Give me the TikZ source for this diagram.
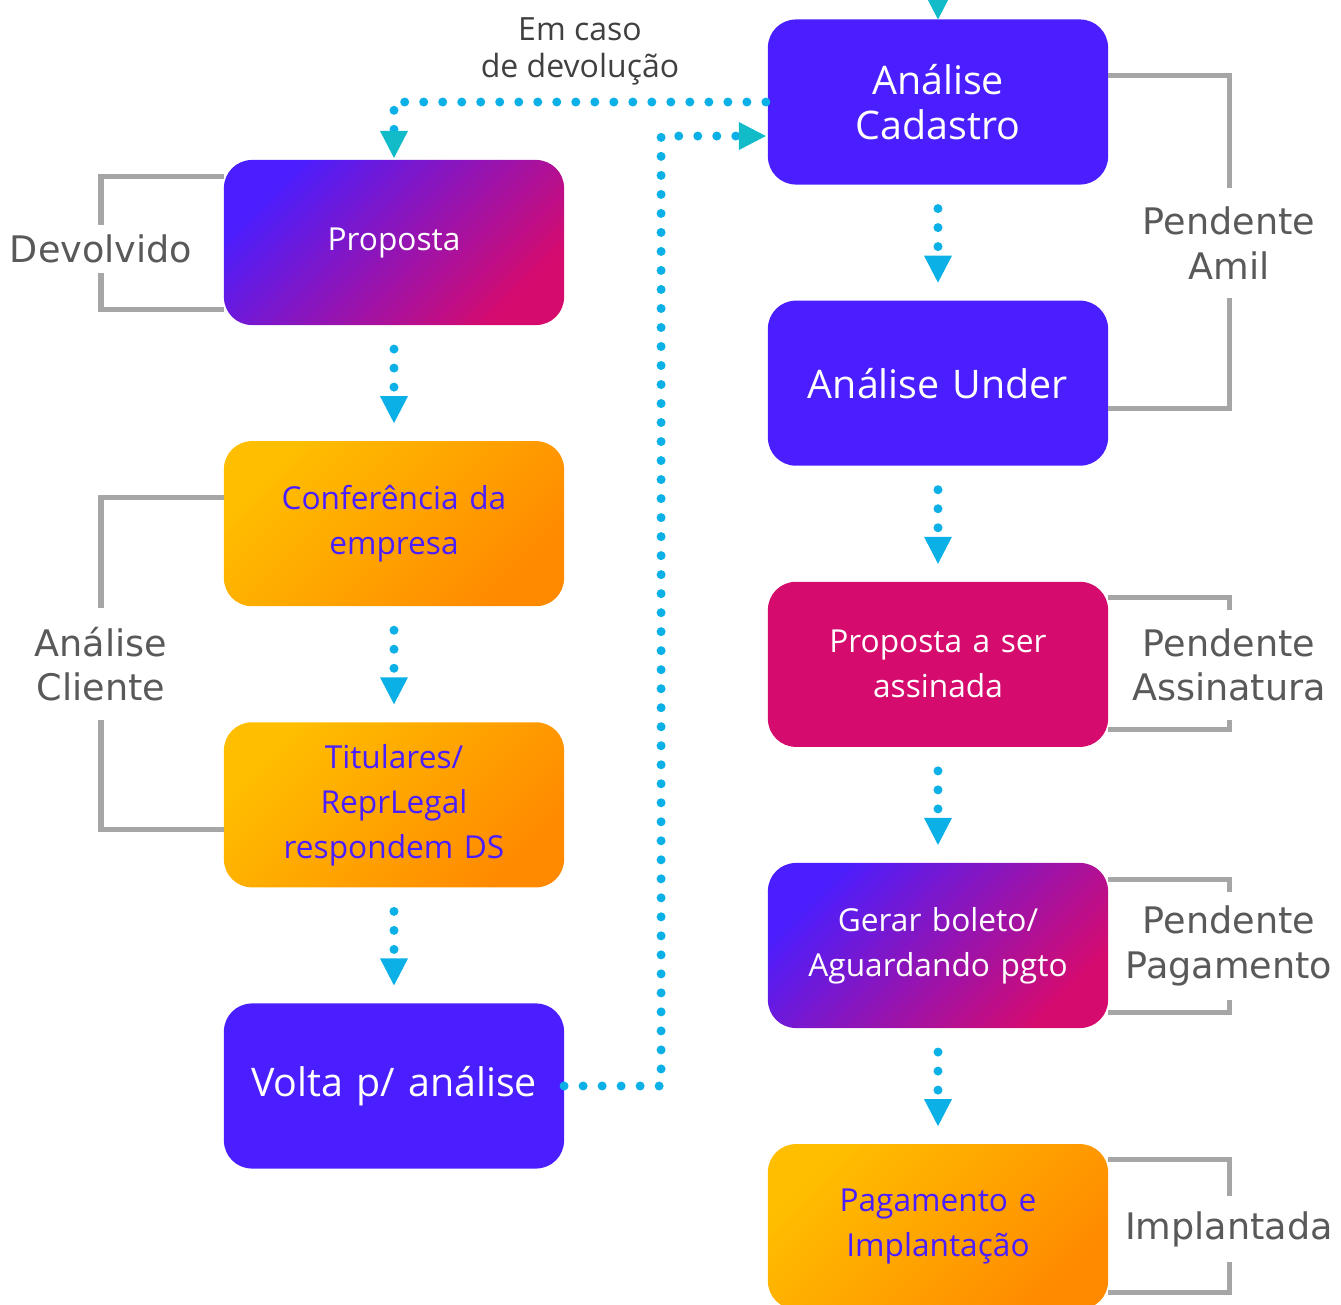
\documentclass[tikz,border=0pt]{standalone}
\usepackage{fontspec}
\setmainfont{Open Sans}
\newfontfamily\statusfont{DejaVu Sans}
\usepackage{xcolor}
\usepackage{tikz}
\usetikzlibrary{positioning, arrows.meta}
\definecolor{primary}{RGB}{74, 30, 255}
\definecolor{pinkish}{RGB}{214, 11, 110}
\definecolor{amber}{RGB}{255, 190, 0}
\definecolor{deeporange}{RGB}{255, 138, 0}
\definecolor{dotblue}{RGB}{11, 176, 230}
\definecolor{tipteal}{RGB}{18, 187, 200}
\definecolor{bracketgray}{RGB}{166, 166, 166}
\definecolor{labelgray}{RGB}{89, 89, 89}
\definecolor{dark}{RGB}{64, 64, 64}

\begin{document}
\begin{tikzpicture}[
        x=0.01cm, y=0.01cm,
        node distance=1.16cm,
        stage/.style={rectangle, rounded corners=0.28cm, minimum width=3.4cm, minimum height=1.65cm, text width=3.3cm, align=center, inner sep=0pt, outer sep=0pt, text=white},
        plain/.style={fill=primary},
        gradient/.style={top color=primary, bottom color=pinkish, shading angle=45},
        warm/.style={top color=amber, bottom color=deeporange, shading angle=45, text=primary},
        big/.style={font=\fontsize{11.2}{12.8}\selectfont},
        small/.style={font=\fontsize{9}{12.8}\selectfont},
        status/.style={text=labelgray, font=\statusfont\fontsize{10.4}{12.7}\selectfont, align=center, inner sep=0pt, outer sep=0pt},
        bracket/.style={draw=bracketgray, line width=0.05cm},
        flow/.style={draw=dotblue, line width=0.09cm, line cap=round, dash pattern=on 0pt off 0.19cm, -{Triangle[width=0.28cm, length=0.27cm, line width=0pt, color=#1]}},
        flow/.default=dotblue
    ]
        \useasboundingbox (0,0) rectangle (1341,-1305);

        % right column
        \node (cadastro) [stage, plain, big] at (938,-102) {Análise\\Cadastro};
        \node (under) [stage, plain, big, below=of cadastro] {Análise Under};
        \node (assinada) [stage, fill=pinkish, small, below=of under] {Proposta a ser\\assinada};
        \node (boleto) [stage, gradient, small, below=of assinada] {Gerar boleto/\\Aguardando pgto};
        \node (implantacao) [stage, warm, small, below=of boleto] {Pagamento e\\Implantação};

        % left column
        \node (proposta) [stage, gradient, small] at (394,-242.5) {Proposta};
        \node (conferencia) [stage, warm, small, below=of proposta] {Conferência da\\empresa};
        \node (titulares) [stage, warm, small, below=of conferencia] {Titulares/\\ReprLegal\\respondem DS};
        \node (volta) [stage, plain, big, below=of titulares] {Volta p/ análise};

        % status labels
        \node (devolvido) [status, minimum height=0.48cm] at (101,-249) {Devolvido};
        \node (cliente) [status, minimum height=1.12cm] at (101,-664) {Análise\\Cliente};
        \node (amil) [status, minimum height=1.10cm] at (1229,-243) {Pendente\\Amil};
        \node (assinatura) [status, minimum height=1.10cm] at (1229,-665) {Pendente\\Assinatura};
        \node (pagamento) [status, minimum height=1.08cm] at (1229,-946) {Pendente\\Pagamento};
        \node (implantada) [status, minimum height=0.65cm] at (1229,-1229) {Implantada};

        \draw[bracket] ([yshift=0.655cm]proposta.west) -| (devolvido.north);
        \draw[bracket] ([yshift=-0.665cm]proposta.west) -| (devolvido.south);
        \draw[bracket] ([yshift=0.26cm]conferencia.west) -| (cliente.north);
        \draw[bracket] ([yshift=-0.25cm]titulares.west) -| (cliente.south);
        \draw[bracket] ([yshift=0.26cm]cadastro.east) -| (amil.north);
        \draw[bracket] ([yshift=-0.25cm]under.east) -| (amil.south);
        \draw[bracket] ([yshift=0.665cm]assinada.east) -| (assinatura.north);
        \draw[bracket] ([yshift=-0.655cm]assinada.east) -| (assinatura.south);
        \draw[bracket] ([yshift=0.655cm]boleto.east) -| (pagamento.north);
        \draw[bracket] ([yshift=-0.665cm]boleto.east) -| (pagamento.south);
        \draw[bracket] ([yshift=0.67cm]implantacao.east) -| (implantada.north);
        \draw[bracket] ([yshift=-0.66cm]implantacao.east) -| (implantada.south);

        % flow
        \foreach \a/\b in {proposta/conferencia, conferencia/titulares, titulares/volta, cadastro/under, under/assinada, assinada/boleto, boleto/implantacao}
            \draw[flow, shorten <=0.24cm, shorten >=0.18cm] (\a) -- (\b);

        \coordinate (entrada) at (938,40);
        \draw[flow=tipteal] (entrada) -- (cadastro);

        \draw[flow=tipteal, shorten <=0.02cm, shorten >=0.02cm] (cadastro.west) -| (proposta.north);
        \draw[flow=tipteal, shorten >=0.02cm] (volta.east) -- ++(97,0) |- ([yshift=-0.34cm]cadastro.west);

        \node (devolucao) [text=dark, align=center, font=\fontsize{9.1}{10.5}\selectfont] at (580,-51) {Em caso\\de devolução};
    \end{tikzpicture}
\end{document}
